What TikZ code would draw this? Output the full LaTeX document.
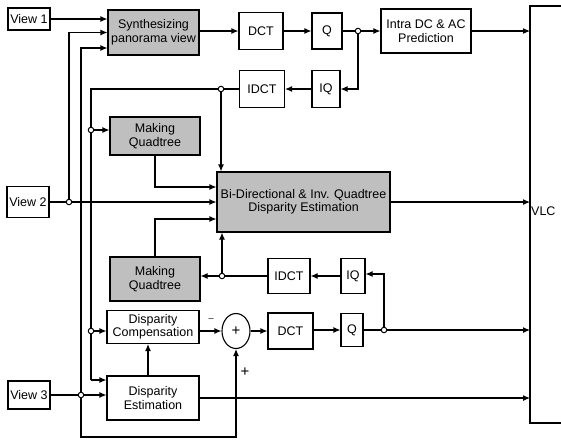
\documentclass[tikz,border=0pt]{standalone}
\usepackage{fontspec}
\setmainfont{Liberation Sans}
\usetikzlibrary{arrows.meta,shapes.geometric,calc}
\begin{document}
\begin{tikzpicture}[x=1pt,y=-1pt,
 font=\fontsize{12.5}{13.5}\selectfont,
 box/.style={draw, line width=1.1pt, inner sep=1pt, align=center},
 shadebox/.style={box, fill=black!25},
 arr/.style={line width=1.1pt, -{Latex[length=7pt,width=6pt]}},
 ln/.style={line width=1.1pt},
 jdot/.style={circle, draw, fill=white, line width=1pt, inner sep=0pt, minimum size=5.5pt}]
\useasboundingbox (0,0) rectangle (561,440);

% boxes
\node[box, minimum width=42pt, minimum height=22pt] (view1) at (29,19) {View 1};
\node[shadebox, minimum width=91pt, minimum height=45pt] (synth) at (153.5,32.5) {Synthesizing\\panorama view};
\node[box, minimum width=44pt, minimum height=37pt] (dct1) at (261,31) {DCT};
\node[box, minimum width=30pt, minimum height=36pt] (q1) at (327,31) {Q};
\node[box, minimum width=90pt, minimum height=44pt] (intra) at (426,31) {Intra DC \& AC\\Prediction};
\node[box, minimum width=45pt, minimum height=37pt] (idct1) at (262,89) {IDCT};
\node[box, minimum width=28pt, minimum height=37pt] (iq1) at (326,89) {IQ};
\node[shadebox, minimum width=90pt, minimum height=38pt] (mq1) at (155,136) {Making\\Quadtree};
\node[shadebox, minimum width=173pt, minimum height=60pt] (bidir) at (303.5,202) {Bi-Directional \& Inv. Quadtree\\Disparity Estimation};
\node[box, minimum width=42pt, minimum height=31pt] (view2) at (28,202) {View 2};
\node[shadebox, minimum width=90pt, minimum height=44pt] (mq2) at (155,279) {Making\\Quadtree};
\node[box, minimum width=42pt, minimum height=35pt] (idct2) at (289,276) {IDCT};
\node[box, minimum width=24pt, minimum height=35pt] (iq2) at (353,276) {IQ};
\node[box, minimum width=92pt, minimum height=33pt] (dc) at (153,327) {Disparity\\Compensation};
\node[draw, ellipse, line width=1.1pt, minimum width=28pt, minimum height=35pt, inner sep=0pt, font=\fontsize{15}{15}\selectfont] (adder) at (236,331) {+};
\node[box, minimum width=45pt, minimum height=36pt] (dct2) at (290.5,331) {DCT};
\node[box, minimum width=22pt, minimum height=33pt] (q2) at (352,330) {Q};
\node[box, minimum width=92pt, minimum height=44pt] (de) at (153,398) {Disparity\\Estimation};
\node[box, minimum width=42pt, minimum height=28pt] (view3) at (29,395) {View 3};

% VLC box (open on the right)
\coordinate (vlcT) at (530,6);
\coordinate (vlcB) at (530,423);
\draw[ln] (561,6) -- (vlcT) -- (vlcB) -- (561,423);
\node[anchor=west, inner sep=0pt] (vlc) at (531,211) {VLC};

% junctions
\coordinate (jq1) at (358,31);
\coordinate (jidct) at (221,89);
\coordinate (c91top) at (91,89);
\coordinate (j1) at (91,130);
\coordinate (jv2) at (69,202);
\coordinate (jmq2) at (222,276);
\coordinate (jq2) at (384,330);
\coordinate (j91) at (91,331);
\coordinate (jv3) at (81,395);

% top row
\draw[arr] (view1.east) -- (view1.east -| synth.west);
\draw[arr] (synth.east |- dct1.west) -- (dct1.west);
\draw[arr] (dct1.east) -- (q1.west);
\draw[ln] (q1.east) -- (jq1);
\draw[arr] (jq1) -- (intra.west);
\draw[arr] (jq1) -- (jq1 |- iq1.east) -- (iq1.east);
\draw[arr] (iq1.west) -- (idct1.east);
\draw[arr] (intra.east) -- (intra.east -| vlcT);

% reconstructed view 2 feedback
\draw[ln] (idct1.west) -- (jidct) -- (c91top) -- (91,380);
\draw[arr] (91,380) -- (91,380 -| de.west);
\draw[arr] (j1) -- (j1 -| mq1.west);
\draw[arr] (jidct) -- (jidct |- bidir.north);
\draw[arr] (j91) -- (j91 -| dc.west);

% quadtree to bidir
\draw[arr] (mq1.south) -- (155,187) -- (155,187 -| bidir.west);
\draw[arr] (mq2.north) -- (155,219) -- (155,219 -| bidir.west);
\draw[arr] (bidir.east) -- (bidir.east -| vlcT);

% view 2
\draw[ln] (view2.east) -- (jv2);
\draw[arr] (jv2) -- (bidir.west);
\draw[arr] (jv2) -- (69,32.5) -- (synth.west);

% view 3
\draw[ln] (view3.east) -- (jv3);
\draw[arr] (jv3) -- (jv3 -| de.west);
\draw[arr] (jv3) -- (81,48) -- (81,48 -| synth.west);
\draw[arr] (jv3) -- (81,437) -- (236,437) -- (adder.south);

% lower loop
\draw[ln] (idct2.west) -- (jmq2);
\draw[arr] (jmq2) -- (jmq2 -| mq2.east);
\draw[arr] (jmq2) -- (jmq2 |- bidir.south);
\draw[arr] (iq2.west) -- (idct2.east);
\draw[arr] (dc.east |- adder.west) -- (adder.west);
\draw[arr] (adder.east) -- (adder.east -| dct2.west);
\draw[arr] (dct2.east |- q2.west) -- (q2.west);
\draw[ln] (q2.east) -- (jq2);
\draw[arr] (jq2) -- (jq2 -| vlcT);
\draw[arr] (jq2) -- (384,274) -- (384,274 -| iq2.east);
\draw[arr] ([xshift=-5pt]de.north) -- ([xshift=-5pt]de.north |- dc.south);
\draw[arr] (de.east) -- (de.east -| vlcT);

% labels
\node[inner sep=0pt] (minus) at (211,320) {\fontsize{9}{9}\selectfont --};
\node[inner sep=0pt] (plus) at (245,372) {\fontsize{15}{15}\selectfont +};

% dots
\foreach \p in {jq1,jidct,j1,jv2,jmq2,jq2,j91,jv3} \node[jdot] at (\p) {};
\end{tikzpicture}
\end{document}
